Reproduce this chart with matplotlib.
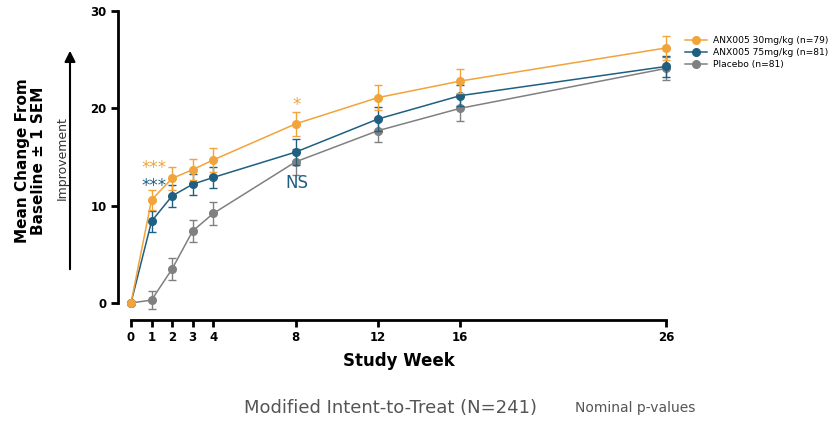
import matplotlib.pyplot as plt
from matplotlib.lines import Line2D
from matplotlib.patches import FancyArrowPatch

weeks = [0, 1, 2, 3, 4, 8, 12, 16, 26]

mg30 = [0, 10.6, 12.8, 13.7, 14.7, 18.4, 21.1, 22.8, 26.2]
mg30_sem = [0, 1.0, 1.2, 1.1, 1.2, 1.2, 1.3, 1.2, 1.2]

mg75 = [0, 8.4, 11.0, 12.2, 12.9, 15.5, 18.9, 21.3, 24.3]
mg75_sem = [0, 1.1, 1.1, 1.1, 1.1, 1.3, 1.2, 1.1, 1.1]

placebo = [0, 0.3, 3.5, 7.4, 9.2, 14.5, 17.7, 20.0, 24.1]
placebo_sem = [0, 0.9, 1.1, 1.1, 1.2, 1.3, 1.2, 1.3, 1.2]

labels = ['ANX005 30mg/kg (n=79)', 'ANX005 75mg/kg (n=81)', 'Placebo (n=81)']
orange = '#F2A33A'
blue = '#1F5F82'
gray = '#808080'

fig = plt.figure(figsize=(8.38, 4.24), dpi=100)
ax = fig.add_axes([0.1563, 0.2854, 0.6384, 0.6887])

# placebo first so the active arms sit on top
for y, e, c, z in [(placebo, placebo_sem, gray, 2),
                   (mg75, mg75_sem, blue, 3),
                   (mg30, mg30_sem, orange, 4)]:
    ax.errorbar(weeks, y, yerr=e, color=c, marker='o', markersize=5.5,
                linewidth=1.1, elinewidth=1, capsize=3, capthick=1,
                zorder=z, clip_on=False)

ax.set_xlim(0, 26)
ax.set_ylim(0, 30)
ax.set_xticks(weeks)
ax.set_yticks([0, 10, 20, 30])

for s in ['top', 'right']:
    ax.spines[s].set_visible(False)
ax.spines['left'].set_position(('outward', 9.4))
ax.spines['bottom'].set_position(('outward', 12.2))
ax.spines['left'].set_linewidth(2)
ax.spines['bottom'].set_linewidth(2)
ax.tick_params(axis='both', width=2, length=5, labelsize=8.5, pad=3)
for t in ax.get_xticklabels() + ax.get_yticklabels():
    t.set_fontweight('bold')

ax.set_xlabel('Study Week', fontsize=12, fontweight='bold', labelpad=6)

# significance marks
ax.text(1.1, 13.9, '***', color=orange, fontsize=12, ha='center', va='center')
ax.text(1.1, 12.0, '***', color=blue, fontsize=12, ha='center', va='center')
ax.text(8.05, 20.3, '*', color=orange, fontsize=12, ha='center', va='center')
ax.text(8.05, 12.3, 'NS', color=blue, fontsize=12, ha='center', va='center')

# y label and improvement arrow
fig.text(0.036, 0.62, 'Mean Change From\nBaseline \u00b1 1 SEM', rotation=90,
         fontsize=11, fontweight='bold', ha='center', va='center',
         linespacing=1.1)
fig.add_artist(FancyArrowPatch(
    (70 / 838, 1 - 272 / 424), (70 / 838, 1 - 48 / 424),
    transform=fig.transFigure, arrowstyle='-|>', mutation_scale=16,
    linewidth=1.5, color='black'))
fig.text(62 / 838, 1 - 158 / 424, 'Improvement', rotation=90, fontsize=9,
         ha='center', va='center', color='#333333')

handles = [Line2D([], [], color=c, marker='o', markersize=5.5, linewidth=1.1)
           for c in (orange, blue, gray)]
fig.legend(handles, labels, loc='upper left', bbox_to_anchor=(0.812, 0.925),
           frameon=False, fontsize=6.6, handlelength=2.4, handletextpad=0.6,
           labelspacing=0.3, borderpad=0)

fig.text(390 / 838, 1 - 408 / 424, 'Modified Intent-to-Treat (N=241)',
         fontsize=13, color='#555555', ha='center', va='center')
fig.text(575 / 838, 1 - 408 / 424, 'Nominal p-values',
         fontsize=10, color='#555555', ha='left', va='center')

fig.savefig('out.png', dpi=100)
